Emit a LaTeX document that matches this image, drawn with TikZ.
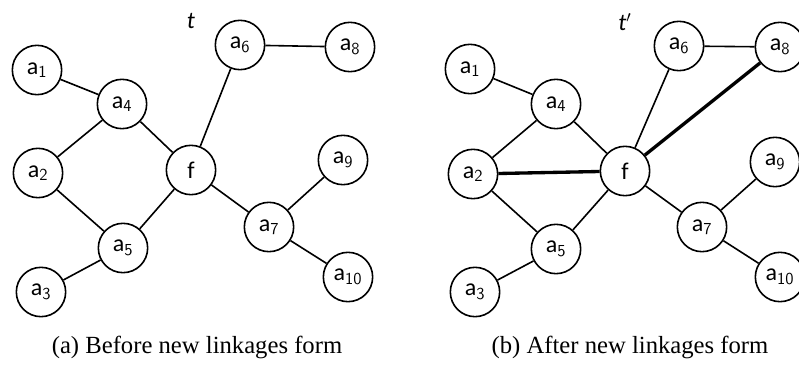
\documentclass[tikz,border=0pt]{standalone}
\usepackage{fontspec}
\setmainfont{Liberation Serif}
\newfontfamily\nodefont{Carlito}
\begin{document}
\begin{tikzpicture}[x=0.75pt,y=-0.75pt,
  vert/.style={circle,draw,line width=1.2pt,minimum size=37pt,inner sep=0pt,font=\nodefont\fontsize{18}{18}\selectfont},
  edge/.style={line width=1.2pt},
  newedge/.style={line width=2.5pt},
  captext/.style={font=\fontsize{18.5}{20}\selectfont},
  ttext/.style={font=\nodefont\itshape\fontsize{18}{18}\selectfont}]
\useasboundingbox (0,0) rectangle (799,367);
% left panel
\node[ttext] (tl) at (191,21) {t};
\node[vert] (la1) at (37,70) {a$_{\mathsf{1}}$};
\node[vert] (la4) at (122,104) {a$_{\mathsf{4}}$};
\node[vert] (la6) at (240,45) {a$_{\mathsf{6}}$};
\node[vert] (la8) at (350,47) {a$_{\mathsf{8}}$};
\node[vert] (la2) at (38,173) {a$_{\mathsf{2}}$};
\node[vert] (lf) at (191,170) {f};
\node[vert] (la9) at (343,160) {a$_{\mathsf{9}}$};
\node[vert] (la7) at (269,227) {a$_{\mathsf{7}}$};
\node[vert] (la5) at (123,248) {a$_{\mathsf{5}}$};
\node[vert] (la3) at (41,292) {a$_{\mathsf{3}}$};
\node[vert] (la10) at (348,277) {a$_{\mathsf{10}}$};
\draw[edge] (la1) -- (la4);
\draw[edge] (la4) -- (la2);
\draw[edge] (la4) -- (lf);
\draw[edge] (la6) -- (la8);
\draw[edge] (lf) -- (la6);
\draw[edge] (la2) -- (la5);
\draw[edge] (lf) -- (la5);
\draw[edge] (la5) -- (la3);
\draw[edge] (lf) -- (la7);
\draw[edge] (la7) -- (la9);
\draw[edge] (la7) -- (la10);
\node[captext] (capa) at (197,347) {(a) Before new linkages form};
% right panel
\node[ttext] (tr) at (625,22) {t$'$};
\node[vert] (ra1) at (470,69) {a$_{\mathsf{1}}$};
\node[vert] (ra4) at (556,104) {a$_{\mathsf{4}}$};
\node[vert] (ra6) at (679,46) {a$_{\mathsf{6}}$};
\node[vert] (ra8) at (780,47) {a$_{\mathsf{8}}$};
\node[vert] (ra2) at (473,174) {a$_{\mathsf{2}}$};
\node[vert] (rf) at (625,171) {f};
\node[vert] (ra9) at (775,162) {a$_{\mathsf{9}}$};
\node[vert] (ra7) at (702,227) {a$_{\mathsf{7}}$};
\node[vert] (ra5) at (556,249) {a$_{\mathsf{5}}$};
\node[vert] (ra3) at (475,292) {a$_{\mathsf{3}}$};
\node[vert] (ra10) at (780,277) {a$_{\mathsf{10}}$};
\draw[edge] (ra1) -- (ra4);
\draw[edge] (ra4) -- (ra2);
\draw[edge] (ra4) -- (rf);
\draw[edge] (ra6) -- (ra8);
\draw[edge] (rf) -- (ra6);
\draw[newedge] (rf) -- (ra8);
\draw[newedge] (ra2) -- (rf);
\draw[edge] (ra2) -- (ra5);
\draw[edge] (rf) -- (ra5);
\draw[edge] (ra5) -- (ra3);
\draw[edge] (rf) -- (ra7);
\draw[edge] (ra7) -- (ra9);
\draw[edge] (ra7) -- (ra10);
\node[captext] (capb) at (630,347) {(b) After new linkages form};
\end{tikzpicture}
\end{document}
